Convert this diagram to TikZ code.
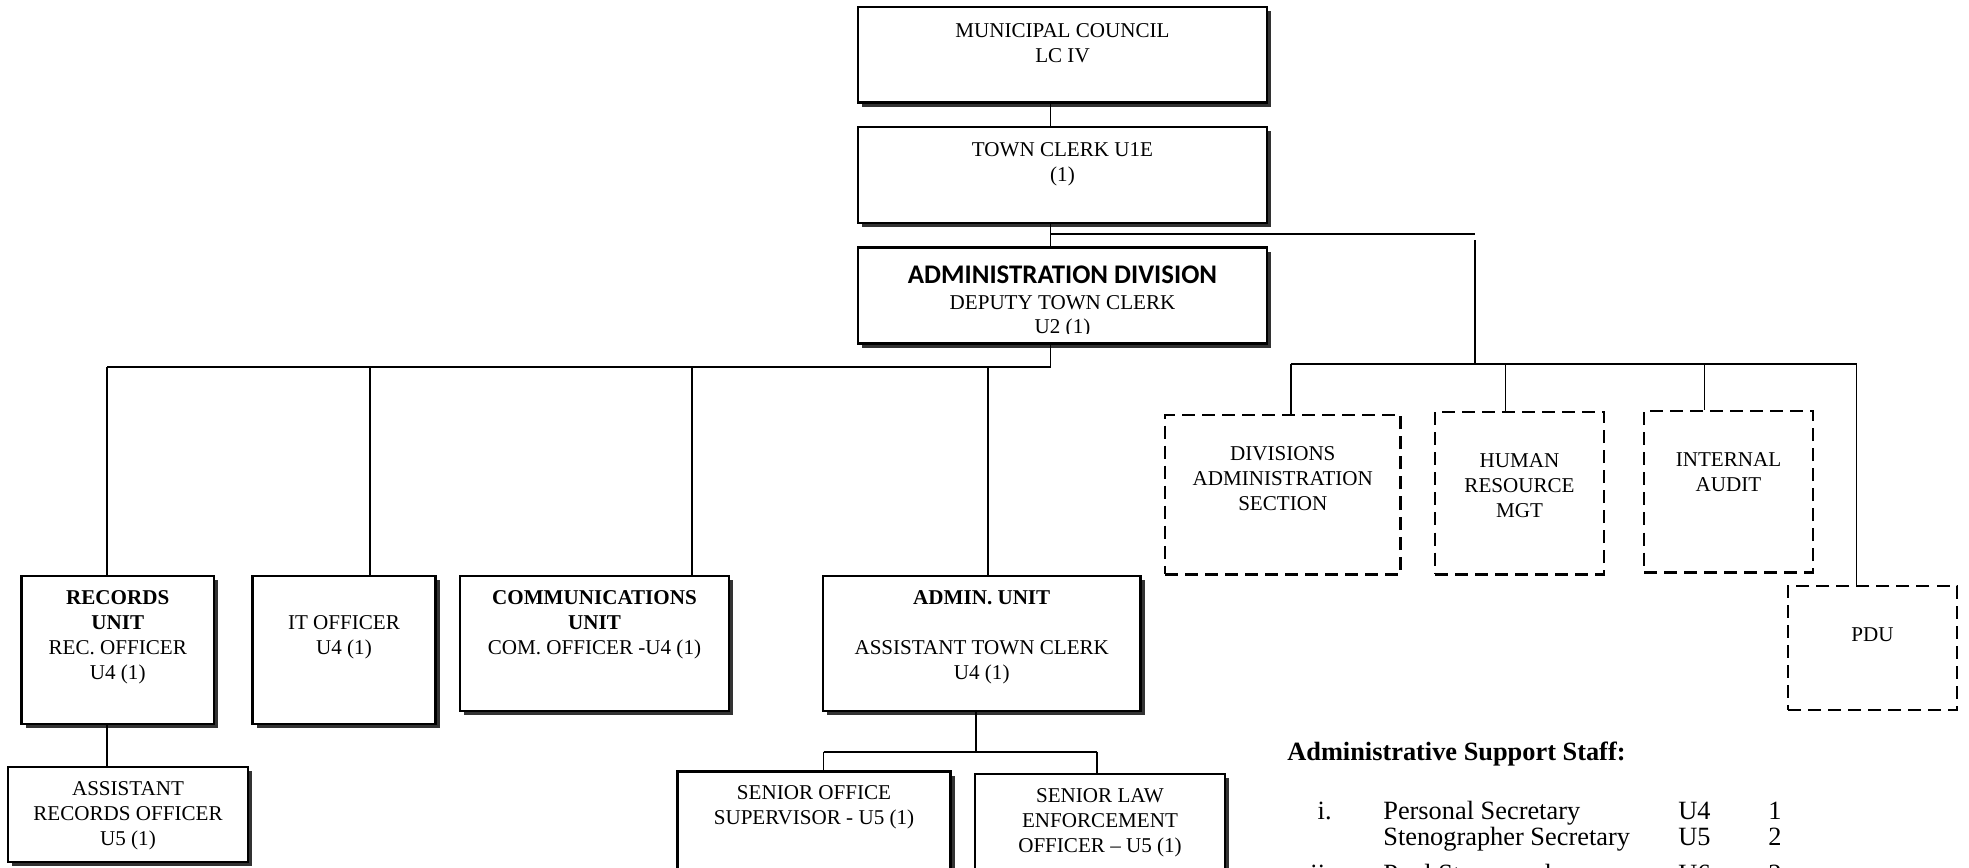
\documentclass[tikz,border=0pt]{standalone}
\usepackage{fontspec}
\setmainfont{Liberation Serif}
\newfontfamily\carlito{Carlito}
\usetikzlibrary{shadows}

\begin{document}
\begin{tikzpicture}[x=0.02cm, y=-0.02cm,
  unitbox/.style={draw, line width=1.2pt, fill=white, inner sep=0pt,
    general shadow={fill=black!80, shadow xshift=2.5pt, shadow yshift=-2.5pt}},
  sectbox/.style={draw, line width=1.5pt, dash pattern=on 7.4pt off 4pt, fill=white, inner sep=0pt},
  lbl/.style={align=center, inner sep=0pt, font=\fontsize{12}{14.2}\selectfont},
  staff/.style={inner sep=0pt, font=\fontsize{15}{18}\selectfont},
  link/.style={line width=1.1pt}]
\useasboundingbox (0,0) rectangle (1969,868);
\node[unitbox, minimum width=8.18cm, minimum height=1.91cm] (council) at (1062.5,54.75) {};
\node[unitbox, minimum width=8.18cm, minimum height=1.92cm] (clerk) at (1062.5,175) {};
\node[unitbox, minimum width=8.18cm, minimum height=1.92cm] (admdiv) at (1062.5,295.5) {};
\node[unitbox, minimum width=3.85cm, minimum height=2.96cm] (records) at (117.75,650) {};
\node[unitbox, minimum width=3.66cm, minimum height=2.96cm] (itoff) at (344,650) {};
\node[unitbox, minimum width=5.38cm, minimum height=2.70cm] (comms) at (594.5,643.5) {};
\node[unitbox, minimum width=6.35cm, minimum height=2.70cm] (admunit) at (981.75,643.5) {};
\node[unitbox, minimum width=4.80cm, minimum height=1.90cm] (asstrec) at (128,814.5) {};
\node[unitbox, minimum width=5.46cm, minimum height=2.37cm] (senoff) at (814,830.75) {};
\node[unitbox, minimum width=5.00cm, minimum height=2.32cm] (senlaw) at (1100,832) {};
\node[sectbox, minimum width=4.71cm, minimum height=3.19cm] (divadm) at (1282.75,494.75) {};
\node[sectbox, minimum width=3.38cm, minimum height=3.25cm] (hrm) at (1519.5,493.25) {};
\node[sectbox, minimum width=3.38cm, minimum height=3.23cm] (audit) at (1728.5,491.75) {};
\node[sectbox, minimum width=3.38cm, minimum height=2.48cm] (pdu) at (1872.5,648) {};

\node[lbl] (council-t) at (1062.5,43.5) {MUNICIPAL COUNCIL\\LC IV};
\node[lbl] (clerk-t) at (1062.5,164.2) {TOWN CLERK U1E\\(1)};
\node[lbl, font=\carlito\bfseries\fontsize{15.3}{18}\selectfont] (admdiv-h) at (1062.5,275) {ADMINISTRATION DIVISION};
\node[lbl] (admdiv-t) at (1062.5,303) {DEPUTY TOWN CLERK};
\begin{scope}
\clip (858,250) rectangle (1267,333.3);
\node[lbl] (admdiv-g) at (1062.5,328.7) {U2 (1)};
\end{scope}
\node[lbl] (records-t) at (117.75,637.5) {\textbf{RECORDS}\\\textbf{UNIT}\\REC. OFFICER\\U4 (1)};
\node[lbl] (itoff-t) at (344,636.8) {IT OFFICER\\U4 (1)};
\node[lbl] (comms-t) at (594.5,624.7) {\textbf{COMMUNICATIONS}\\\textbf{UNIT}\\COM. OFFICER -U4 (1)};
\node[lbl] (admunit-t) at (981.75,637.5) {\textbf{ADMIN. UNIT}\\[14.2pt]ASSISTANT TOWN CLERK\\U4 (1)};
\node[lbl] (asstrec-t) at (128,815.9) {ASSISTANT\\RECORDS OFFICER\\U5 (1)};
\node[lbl] (senoff-t) at (814,807.5) {SENIOR OFFICE\\SUPERVISOR - U5 (1)};
\node[lbl] (senlaw-t) at (1100,822.6) {SENIOR LAW\\ENFORCEMENT\\OFFICER -- U5 (1)};
\node[lbl] (divadm-t) at (1282.75,479) {DIVISIONS\\ADMINISTRATION\\SECTION};
\node[lbl] (hrm-t) at (1519.5,486) {HUMAN\\RESOURCE\\MGT};
\node[lbl] (audit-t) at (1728.5,472) {INTERNAL\\AUDIT};
\node[lbl] (pdu-t) at (1872.5,635) {PDU};

\coordinate (trunk) at (1050.5,234);
\coordinate (rturn) at (1475,234);
\coordinate (rbus) at (1475,364);
\coordinate (lbus) at (1050.5,366.7);
\coordinate (lb1) at (107,366.7);
\coordinate (lb2) at (370,366.7);
\coordinate (lb3) at (692,366.7);
\coordinate (lb4) at (988.2,366.7);
\coordinate (rb1) at (1290.7,364);
\coordinate (rb2) at (1505.5,364);
\coordinate (rb3) at (1704.5,364);
\coordinate (rb4) at (1856.5,364);
\coordinate (ab0) at (976,751.7);
\coordinate (ab1) at (823.5,751.7);
\coordinate (ab2) at (1096.7,751.7);

\draw[link] (council.south -| trunk) -- (clerk.north -| trunk);
\draw[link] (clerk.south -| trunk) -- (admdiv.north -| trunk);
\draw[link] (trunk) -- (rturn);
\draw[link] ([yshift=-0.12cm]rturn) -- (rbus);
\draw[link] (rb1) -- (rb4);
\draw[link] (rb1) -- (rb1 |- divadm.north);
\draw[link] (rb2) -- (rb2 |- hrm.north);
\draw[link] (rb3) -- (rb3 |- audit.north);
\draw[link] (rb4) -- (rb4 |- pdu.north);
\draw[link] (admdiv.south -| trunk) -- (lbus) -- (lb1);
\draw[link] (lb1) -- (lb1 |- records.north);
\draw[link] (lb2) -- (lb2 |- itoff.north);
\draw[link] (lb3) -- (lb3 |- comms.north);
\draw[link] (lb4) -- (lb4 |- admunit.north);
\draw[link] (records.south -| lb1) -- (asstrec.north -| lb1);
\draw[link] (admunit.south -| ab0) -- (ab0);
\draw[link] (ab1) -- (ab2);
\draw[link] (ab1) -- (ab1 |- senoff.north);
\draw[link] (ab2) -- (ab2 |- senlaw.north);

\node[staff, anchor=base west, font=\bfseries\fontsize{15}{18}\selectfont] (staff-h) at (1287,760) {Administrative Support Staff:};
\node[staff, anchor=base east] (n1) at (1332,819) {i.};
\node[staff, anchor=base west] (p1) at (1383,819) {Personal Secretary};
\node[staff, anchor=base west] (g1) at (1678,819) {U4};
\node[staff, anchor=base west] (c1) at (1768,819) {1};
\node[staff, anchor=base west] (p2) at (1383,845) {Stenographer Secretary};
\node[staff, anchor=base west] (g2) at (1678,845) {U5};
\node[staff, anchor=base west] (c2) at (1768,845) {2};
\node[staff, anchor=base east] (n3) at (1332,882) {ii.};
\node[staff, anchor=base west] (p3) at (1383,882) {Pool Stenographer};
\node[staff, anchor=base west] (g3) at (1678,882) {U6};
\node[staff, anchor=base west] (c3) at (1768,882) {2};
\end{tikzpicture}
\end{document}
